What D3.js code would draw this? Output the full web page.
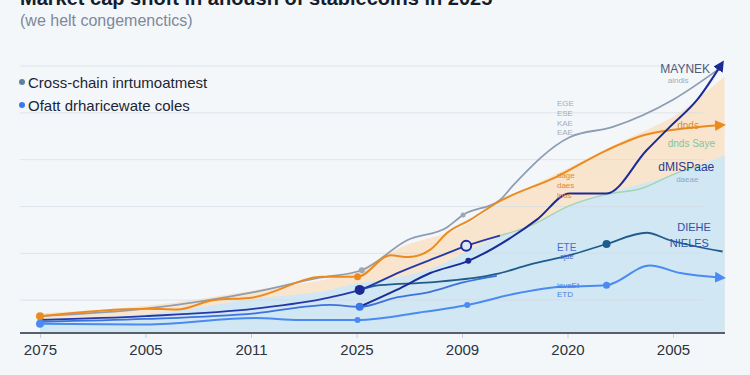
<!DOCTYPE html>
<html>
<head>
<meta charset="utf-8">
<script src="https://cdn.jsdelivr.net/npm/d3@7"></script>
<style>
body { margin: 0; background: #f4f7fa; }
svg { display: block; font-family: "Liberation Sans", Arial, sans-serif; }
</style>
</head>
<body>
<svg id="drawing_region"></svg>
<script>
// x positions are category index (0..6), values in $B
const xLabels = ["2075", "2005", "2011", "2025", "2009", "2020", "2005"];
const gridValues = [50, 100, 150, 200, 250, 300];

const peachTop = [[0,36],[1.0,44],[2.04,61],[3.01,82],[3.41,106],[4.01,129],[4.36,154],[4.93,187],[5.50,219],[6.07,251],[6.49,289]];
const blueTop = [[0,30],[1.0,35],[2.15,53],[2.75,61],[3.01,68],[3.38,74],[3.86,91],[4.01,100],[4.36,118],[4.64,128],[5.02,152],[5.43,166],[6.0,184],[6.49,205]];

const grayLine = [[0,33],[1.0,41],[2.04,59],[2.65,74],[3.05,82],[3.48,114],[3.86,128],[4.01,141],[4.36,157],[4.48,172],[5.02,224],[5.43,235],[6.0,264],[6.45,298]];
const orangeLine = [[0,33],[1.0,41],[1.30,40],[1.64,50],[2.02,53],[2.68,75],[3.01,75],[3.32,98],[3.49,96],[3.70,104],[3.86,122],[4.08,136],[4.33,154],[4.90,182],[5.37,210],[5.72,226],[6.16,234],[6.46,237]];
const greenLine = [[4.33,118],[4.64,129],[5.02,151],[5.37,163],[5.69,169],[6.04,186],[6.26,194]];
const navyLine = [[3.03,43],[3.38,61],[3.70,79],[4.06,92],[4.48,118],[4.71,136],[5.02,164],[5.37,164],[5.75,210],[5.97,235],[6.23,264],[6.46,302]];
const navy2Line = [[0,29],[1.0,33],[2.04,41],[2.75,53],[3.03,61],[3.41,80],[3.79,97],[4.04,108],[4.36,119]];
const tealLine = [[3.03,61],[3.22,66],[3.70,69],[4.33,78],[4.64,88],[5.02,98],[5.37,110],[5.75,122],[5.97,114],[6.47,102]];
const midBlueLine = [[0,27],[1.0,30],[2.04,36],[2.75,45],[3.03,43],[3.38,53],[3.70,59],[4.01,69],[4.33,76]];
const brightLine = [[0,25],[1.0,24],[2.04,31],[2.46,29],[3.01,29],[3.60,37],[4.05,45],[4.55,58],[4.90,64],[5.37,66],[5.78,87],[6.07,79],[6.46,74]];

const legendNames = ["Cross-chain inrtumoatmest", "Ofatt drharicewate coles"];

class AreaLineChart {

    constructor(config) {
        this.config = {
            parent: config.parent,
            width: config.width || 750,
            height: config.height || 375
        };
        this.init();
    }

    init() {
        let self = this;
        self.svg = d3.select(self.config.parent)
            .attr('width', self.config.width)
            .attr('height', self.config.height);

        self.x = d3.scaleLinear().domain([0, 6]).range([40, 673]);
        self.y = d3.scaleLinear().domain([15, 300]).range([333, 66]);

        const defs = self.svg.append('defs');
        const arrows = {navy: '#1b2b96', bright: '#4a8af2', orange: '#eb8b1f'};
        Object.entries(arrows).forEach(([k, c]) => {
            defs.append('marker')
                .attr('id', 'arr-' + k)
                .attr('viewBox', '0 0 10 10')
                .attr('refX', 6).attr('refY', 5)
                .attr('markerWidth', 11).attr('markerHeight', 11)
                .attr('markerUnits', 'userSpaceOnUse')
                .attr('orient', 'auto')
                .append('path')
                .attr('d', 'M0,0 L10,5 L0,10 z')
                .attr('fill', c);
        });
    }

    render() {
        let self = this;
        const x = self.x, y = self.y;

        // titles (top one runs off the page like the original)
        self.svg.append('text')
            .attr('x', 20).attr('y', 5)
            .attr('font-size', 20).attr('font-weight', 'bold')
            .attr('fill', '#151d2c')
            .text('Market cap shoft in anoush of stablecoins in 2025');
        self.svg.append('text')
            .attr('x', 20).attr('y', 26)
            .attr('font-size', 16).attr('fill', '#7d889a')
            .text('(we helt congemenctics)');

        // areas
        const area = d3.area()
            .x(d => x(d[0]))
            .y0(y(15))
            .y1(d => y(d[1]))
            .curve(d3.curveMonotoneX);

        self.svg.append('path').datum(peachTop)
            .attr('d', area).attr('fill', '#f9e5cd');
        self.svg.append('path').datum(blueTop)
            .attr('d', area).attr('fill', '#d1e7f3');

        // grid
        self.svg.append('g')
            .selectAll('line')
            .data(gridValues)
            .join('line')
            .attr('x1', 20).attr('x2', 703)
            .attr('y1', d => y(d)).attr('y2', d => y(d))
            .attr('stroke', '#d3dbe4').attr('stroke-opacity', 0.7);

        // legend
        legendNames.forEach((name, i) => {
            const ly = 82 + i * 23;
            self.svg.append('circle')
                .attr('cx', 22).attr('cy', ly).attr('r', 3)
                .attr('fill', i === 0 ? '#5d7fa6' : '#3b78ee');
            self.svg.append('text')
                .attr('x', 28).attr('y', ly + 6)
                .attr('font-size', 15).attr('fill', '#1d2534')
                .text(name);
        });

        // lines
        const line = d3.line()
            .x(d => x(d[0]))
            .y(d => y(d[1]))
            .curve(d3.curveMonotoneX);

        const series = [
            {data: grayLine, color: '#8d9db2', w: 1.8},
            {data: greenLine, color: '#a3d4b4', w: 1.4},
            {data: orangeLine, color: '#eb8b1f', w: 2, arrow: 'orange'},
            {data: midBlueLine, color: '#3d72dc', w: 1.8},
            {data: tealLine, color: '#1f5c8c', w: 1.8},
            {data: brightLine, color: '#4a8af2', w: 2, arrow: 'bright'},
            {data: navy2Line, color: '#2438aa', w: 1.8},
            {data: navyLine, color: '#1b2b96', w: 2, arrow: 'navy'}
        ];

        series.forEach(s => {
            self.svg.append('path').datum(s.data)
                .attr('d', line)
                .attr('fill', 'none')
                .attr('stroke', s.color)
                .attr('stroke-width', s.w)
                .attr('stroke-linejoin', 'round')
                .attr('marker-end', s.arrow ? `url(#arr-${s.arrow})` : null);
        });

        // point markers
        const dots = [
            {p: orangeLine[0], r: 4, fill: '#eb8b1f'},
            {p: orangeLine[6], r: 3.5, fill: '#eb8b1f'},
            {p: brightLine[0], r: 4, fill: '#4a8af2'},
            {p: brightLine[4], r: 3, fill: '#4a8af2'},
            {p: brightLine[6], r: 3, fill: '#4a8af2'},
            {p: brightLine[9], r: 3.5, fill: '#4a8af2'},
            {p: midBlueLine[4], r: 4, fill: '#3a78e8'},
            {p: navy2Line[4], r: 5, fill: '#1b2b96'},
            {p: navy2Line[7], r: 5, fill: '#dfe6f5', stroke: '#1b2b96'},
            {p: navyLine[3], r: 3, fill: '#1b2b96'},
            {p: tealLine[6], r: 4, fill: '#1f5c8c'},
            {p: grayLine[4], r: 3, fill: '#9aa8ba'},
            {p: grayLine[7], r: 2.5, fill: '#9aa8ba'}
        ];
        self.svg.append('g').selectAll('circle')
            .data(dots)
            .join('circle')
            .attr('cx', d => x(d.p[0])).attr('cy', d => y(d.p[1]))
            .attr('r', d => d.r)
            .attr('fill', d => d.fill)
            .attr('stroke', d => d.stroke || 'none')
            .attr('stroke-width', 2);

        // scattered annotations
        const notes = [
            {t: 5.88, v: 292.5, text: 'MAYNEK', size: 12, fill: '#4b5b7a'},
            {t: 5.95, v: 282, text: 'aindis', size: 8, fill: '#9eabbd'},
            {t: 4.90, v: 257, text: 'EGE', size: 8, fill: '#a3adbb'},
            {t: 4.90, v: 246.5, text: 'ESE', size: 8, fill: '#a3adbb'},
            {t: 4.90, v: 236, text: 'KAE', size: 8, fill: '#a3adbb'},
            {t: 4.90, v: 226, text: 'EAE', size: 8, fill: '#a3adbb'},
            {t: 4.90, v: 180.5, text: 'dage', size: 8, fill: '#e08a2a'},
            {t: 4.90, v: 170, text: 'daes', size: 8, fill: '#e08a2a'},
            {t: 4.90, v: 159.5, text: 'lnus', size: 8, fill: '#e08a2a'},
            {t: 6.04, v: 233, text: 'dnds', size: 10, fill: '#e08a2a'},
            {t: 5.95, v: 213.5, text: 'dnds Saye', size: 10, fill: '#86c39f'},
            {t: 5.86, v: 188, text: 'dMISPaae', size: 12, fill: '#2a3a8c'},
            {t: 6.03, v: 176, text: 'daeae', size: 8, fill: '#8fa6c8'},
            {t: 6.04, v: 124, text: 'DIEHE', size: 11, fill: '#3050a8'},
            {t: 5.97, v: 107, text: 'NIELES', size: 11, fill: '#3050a8'},
            {t: 4.90, v: 102.5, text: 'ETE', size: 10, fill: '#3f70d0'},
            {t: 4.93, v: 94, text: 'ajae', size: 7, fill: '#3f70d0'},
            {t: 4.90, v: 63, text: 'ieveEt', size: 8, fill: '#4a80e0'},
            {t: 4.90, v: 53, text: 'ETD', size: 8, fill: '#4a80e0'}
        ];
        self.svg.append('g').selectAll('text')
            .data(notes)
            .join('text')
            .attr('x', d => x(d.t)).attr('y', d => y(d.v))
            .attr('font-size', d => d.size)
            .attr('fill', d => d.fill)
            .text(d => d.text);

        // x axis
        const xAxis = d3.axisBottom(x)
            .tickValues(d3.range(xLabels.length))
            .tickFormat(i => xLabels[i])
            .tickSize(5)
            .tickPadding(6)
            .tickSizeOuter(0);

        const ax = self.svg.append('g')
            .attr('transform', `translate(0, ${y(15)})`)
            .call(xAxis);
        ax.select('.domain').remove();
        ax.selectAll('.tick line').attr('stroke', '#c6cdd6');
        ax.selectAll('.tick text')
            .attr('font-size', 15)
            .attr('font-family', '"Liberation Sans", Arial, sans-serif')
            .attr('fill', '#2b3340');

        self.svg.append('line')
            .attr('x1', 20).attr('x2', 725)
            .attr('y1', y(15)).attr('y2', y(15))
            .attr('stroke', '#575f6b').attr('stroke-width', 2);
    }
}

const chart = new AreaLineChart({parent: '#drawing_region', width: 750, height: 375});
chart.render();
</script>
</body>
</html>
